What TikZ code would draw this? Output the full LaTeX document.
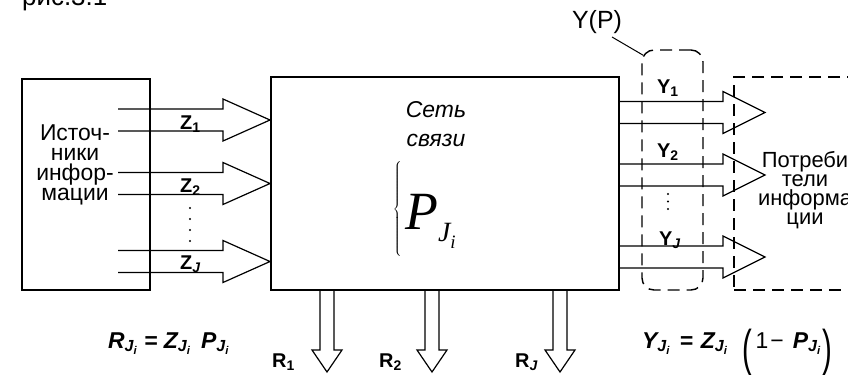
\documentclass[tikz,border=0pt]{standalone}
\usepackage{fontspec}
\setmainfont{Liberation Sans}
\newfontfamily\timesfont{Liberation Serif}
\usetikzlibrary{positioning,calc}

\tikzset{
  blk/.style={draw, line width=1.3bp, inner sep=0pt},
  fat/.style={draw, line width=1.2bp, line join=miter},
  dashbox/.style={draw, line width=1.4bp, dash pattern=on 12bp off 7bp, inner sep=0pt},
  txt/.style={font=\fontsize{23}{20}\selectfont, align=center, inner sep=0pt},
  lbl/.style={font=\fontsize{20}{20}\selectfont\bfseries, inner sep=0pt, anchor=base west},
  frm/.style={font=\fontsize{23}{23}\selectfont\bfseries\itshape, inner sep=0pt, anchor=base west},
}

% open block arrows: start point, shaft length, head length
\newcommand\fatright[3]{\draw[fat] #1 ++(0,-11) -- ++(#2,0) -- ++(0,-10) -- ++(#3,21) -- ++(-#3,21) -- ++(0,-10) -- ++(-#2,0);}
\newcommand\fatdown[1]{\draw[fat] #1 ++(-7,0) -- ++(0,60) -- ++(-8,0) -- ++(15,22) -- ++(15,-22) -- ++(-8,0) -- ++(0,-60);}
\newcommand\lowidx[1]{\textsubscript{#1}}
\newcommand\tallpar[1]{{\fontsize{28}{28}\selectfont\mdseries\upshape\raisebox{-17bp}{\scalebox{1.05}[1.8]{#1}}}}

\begin{document}
\begin{tikzpicture}[x=1bp, y=-1bp]
    \useasboundingbox (0,0) rectangle (848,374);

    \node[anchor=base west, inner sep=0pt, font=\fontsize{26}{26}\selectfont] (fig) at (22,5) {рис.3.1};

    \node[blk, minimum width=128bp, minimum height=211bp] (src) at (86,184.5) {};
    \node[txt] (srctxt) at (75,165) {Источ-\\ники\\инфор-\\мации};

    \node[blk, minimum width=348bp, minimum height=213bp] (net) at (445,183.5) {};
    \node[txt, font=\fontsize{23}{23}\selectfont\itshape] (net1) at (436,110) {Сеть};
    \node[txt, font=\fontsize{23}{23}\selectfont\itshape, below=16bp of net1] (net2) {связи};
    \node[inner sep=0pt] (brc) at (398,209) {$\left\{\vrule height 45bp depth 45bp width 0pt\right.$};
    \node[inner sep=0pt, anchor=base west] (pbig) at (405,229) {\timesfont\itshape\fontsize{54}{54}\selectfont P\raisebox{-12bp}{\fontsize{28}{28}\selectfont J\raisebox{-7bp}{\fontsize{19}{19}\selectfont i}}};

    \node[dashbox, minimum width=146bp, minimum height=213bp] (dst) at (807,183.5) {};
    \node[txt, font=\fontsize{22}{19}\selectfont] (dsttxt) at (805,190) {Потреби\\тели\\информа\\ции};

    \node[dashbox, rounded corners=12bp, minimum width=61bp, minimum height=240bp] (ygrp) at (672.5,170) {};
    \node[inner sep=0pt, font=\fontsize{25}{25}\selectfont] (yp) at (597,22) {Y(P)};
    \coordinate (ypfoot) at (612,37);
    \draw[line width=1bp] (ypfoot) -- ($(ygrp.north west)+(2,6)$);

    % inputs
    \coordinate (z1) at (118,120);
    \coordinate (z2) at (118,183.5);
    \coordinate (zj) at (118,261.5);
    \foreach \c in {z1,z2,zj} {\fatright{(\c)}{105}{47}}
    \node[lbl] (lz1) at (180,129) {Z\lowidx{1}};
    \node[lbl] (lz2) at (180,192) {Z\lowidx{2}};
    \node[lbl] (lzj) at (180,269) {Z\lowidx{\itshape J}};
    \foreach \yy in {208,219,230,241} \fill (190,\yy) circle (1.2bp);

    % outputs
    \coordinate (y1) at (619,112.5);
    \coordinate (y2) at (619,175);
    \coordinate (yj) at (619,257);
    \foreach \c in {y1,y2,yj} {\fatright{(\c)}{104}{42}}
    \node[lbl] (ly1) at (657,93) {Y\lowidx{1}};
    \node[lbl] (ly2) at (657,157) {Y\lowidx{2}};
    \node[lbl] (lyj) at (659,245) {Y\lowidx{\itshape J}};
    \foreach \yy in {194,201.5,209} \fill (668,\yy) circle (1.1bp);

    % losses
    \coordinate (r1) at (327,290);
    \coordinate (r2) at (432,290);
    \coordinate (rj) at (560,290);
    \foreach \c in {r1,r2,rj} {\fatdown{(\c)}}
    \node[lbl] (lr1) at (272,367) {R\lowidx{1}};
    \node[lbl] (lr2) at (379,367) {R\lowidx{2}};
    \node[lbl] (lrj) at (515,367) {R\lowidx{\itshape J}};

    \node[frm] (frm1) at (108,348) {R\lowidx{J\lowidx{i}} = Z\lowidx{J\lowidx{i}}\, P\lowidx{J\lowidx{i}}};
    \node[frm] (frm2) at (642,348) {Y\lowidx{J\lowidx{i}}\hspace{9bp}=\hspace{8bp}Z\lowidx{J\lowidx{i}}\hspace{15bp}\tallpar{(}\hspace{3bp}{\mdseries\upshape 1\hspace{2bp}−}\hspace{9bp}P\lowidx{J\lowidx{i}}\hspace{1bp}\tallpar{)}};
\end{tikzpicture}
\end{document}
